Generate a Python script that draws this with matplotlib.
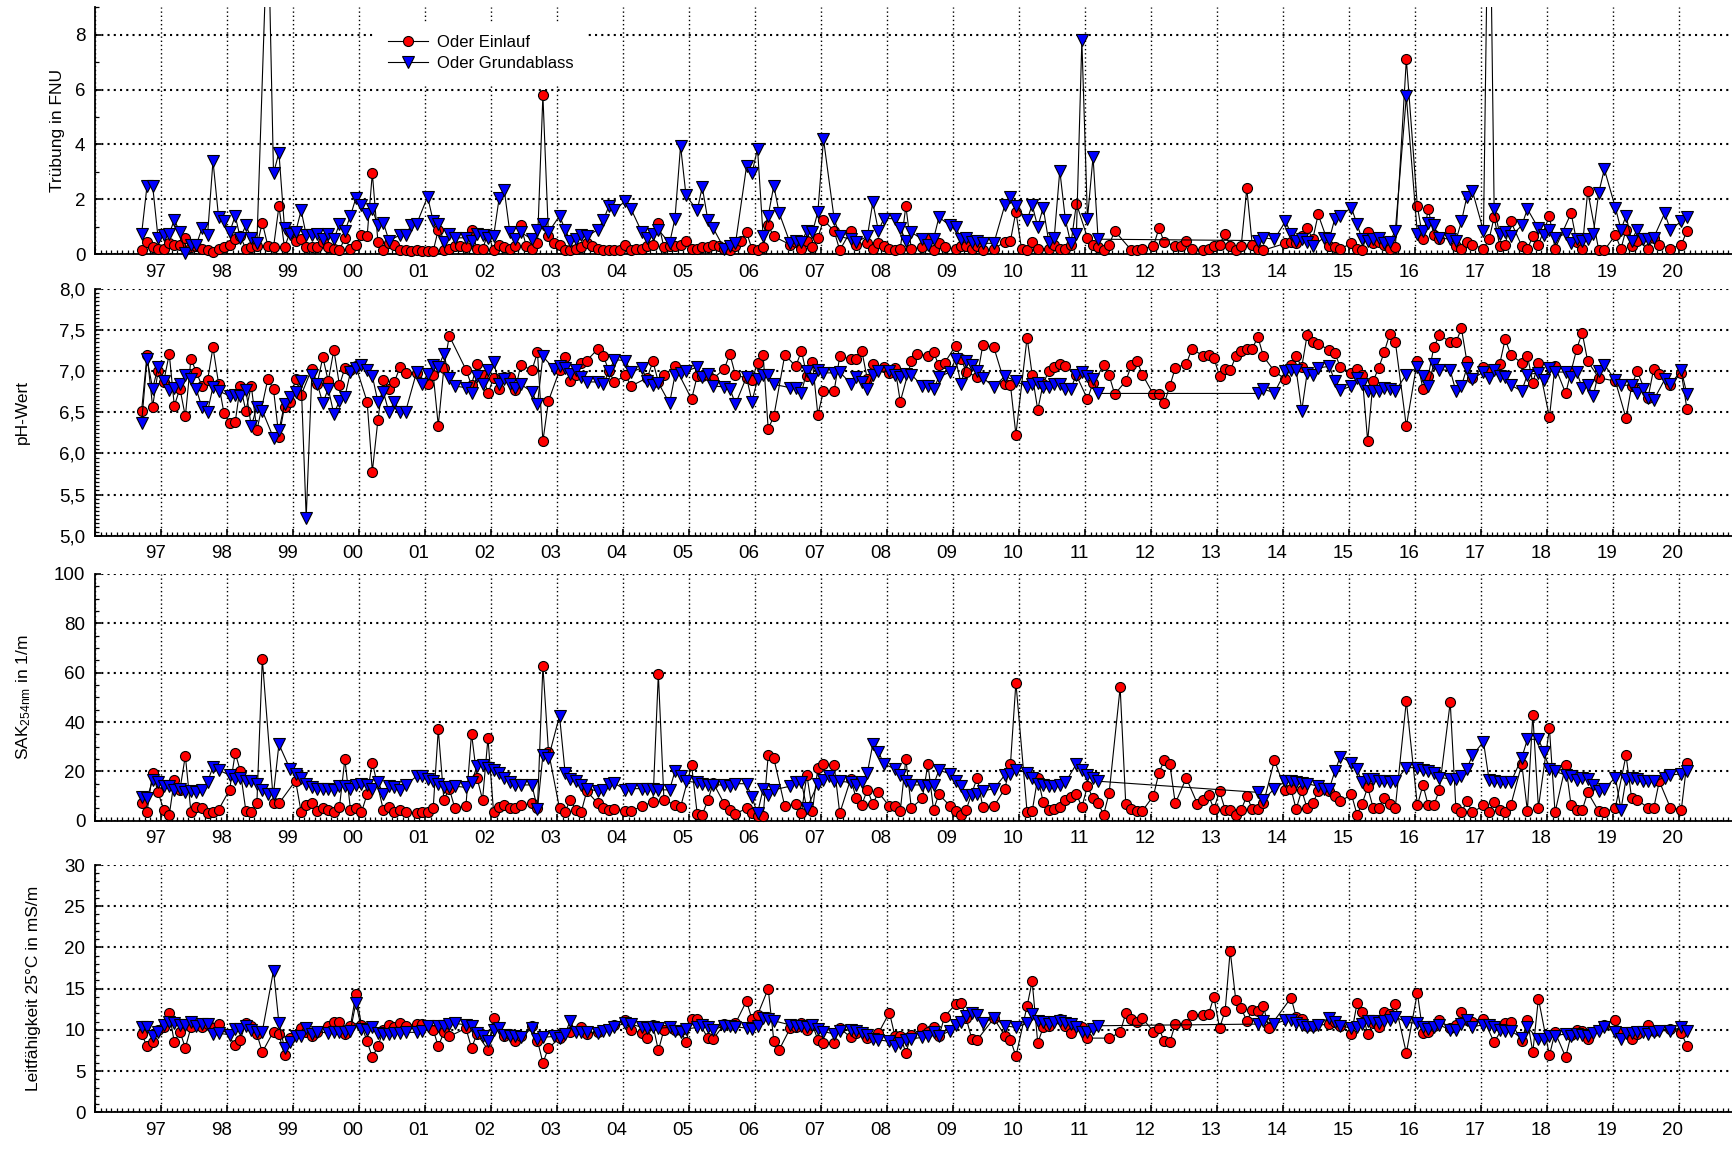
import numpy as np
import pandas as pd
import matplotlib
matplotlib.use("Agg")
import matplotlib.pyplot as plt
import matplotlib.dates as mdates
import matplotlib.transforms as mtransforms
from matplotlib.ticker import MultipleLocator, FuncFormatter
from matplotlib.lines import Line2D
from datetime import datetime

nan = np.nan

# monthly samples Sep 1996 .. Feb 2020, one row per year (1996 has 4, 2020 has 2)
first_month = "1996-09-01"
last_month = "2020-02-01"

trueb_einlauf = [
    [0.15, 0.45, 0.25, 0.2],
    [0.2, 0.4, 0.35, 0.35, 0.6, 0.25, 0.3, 0.2, 0.15, 0.1, 0.2, 0.25],
    [0.35, 0.55, 0.65, 0.2, 0.25, 0.3, 1.15, 0.3, 0.25, 1.75, 0.25, 0.8],
    [0.5, 0.55, 0.25, 0.25, 0.25, 0.45, 0.25, 0.2, 0.15, 0.6, 0.2, 0.35],
    [0.7, 0.65, 2.95, 0.45, 0.15, 0.4, 0.35, 0.15, 0.15, 0.12, 0.15, 0.12],
    [0.12, 0.12, 0.9, 0.15, 0.2, 0.3, 0.3, 0.25, 0.9, 0.2, 0.2, 0.75],
    [0.15, 0.35, 0.25, 0.2, 0.3, 1.05, 0.3, 0.2, 0.4, 5.8, 0.65, 0.4],
    [0.35, 0.15, 0.15, 0.2, 0.25, 0.4, 0.3, 0.2, 0.15, 0.15, 0.15, 0.15],
    [0.35, 0.15, 0.2, 0.2, 0.3, 0.35, 1.15, 0.25, 0.3, 0.3, 0.35, 0.5],
    [0.2, 0.2, 0.25, 0.25, 0.35, 0.3, 0.2, 0.15, 0.3, 0.5, 0.8, 0.2],
    [0.15, 0.25, 1.05, 0.65, nan, nan, 0.35, 0.45, 0.2, 0.5, 0.25, 0.6],
    [1.25, nan, 0.85, 0.15, nan, 0.85, 0.35, nan, 0.4, 0.2, 0.4, 0.3],
    [0.2, 0.15, 0.2, 1.75, 0.2, nan, 0.25, 0.6, 0.15, 0.4, 0.25, nan],
    [0.2, 0.3, 0.3, 0.2, 0.3, 0.15, nan, 0.2, nan, 0.45, 0.5, 1.55],
    [0.2, 0.15, 0.45, 0.2, nan, 0.2, 0.35, 0.2, 0.2, 0.35, 1.85, nan],
    [0.6, 0.35, 0.25, 0.15, 0.35, 0.85, nan, nan, 0.15, 0.15, 0.2, nan],
    [0.3, 0.95, 0.45, nan, 0.3, 0.3, 0.5, 0.2, nan, 0.15, 0.2, 0.3],
    [0.35, 0.75, 0.3, 0.15, 0.3, 2.4, 0.35, 0.2, 0.15, nan, nan, nan],
    [0.4, 0.45, 0.4, 0.65, 0.95, 0.55, 1.45, nan, 0.3, 0.25, 0.2, nan],
    [0.4, 0.2, 0.15, 0.8, 0.4, 0.45, 0.35, 0.2, 0.25, nan, 7.1, nan],
    [1.75, 0.55, 1.65, 0.7, 0.55, nan, 0.9, 0.3, 0.2, 0.45, 0.35, nan],
    [0.2, 0.55, 1.35, 0.3, 0.35, 1.2, nan, 0.3, 0.2, 0.65, 0.35, nan],
    [1.4, 0.2, nan, nan, 1.5, 0.45, 0.2, 2.3, nan, 0.15, 0.15, nan],
    [0.7, 0.2, 0.9, 0.3, 0.5, nan, 0.2, 0.6, 0.35, nan, 0.2, nan],
    [0.35, 0.85],
]

trueb_grund = [
    [0.75, 2.5, 2.5, 0.6],
    [0.7, 0.75, 1.25, 0.8, 0.05, 0.35, 0.35, 0.95, 0.7, 3.4, 1.35, 1.2],
    [0.8, 1.4, 0.6, 1.05, 0.6, 0.4, nan, 12.5, 2.95, 3.7, 0.95, 0.75],
    [0.8, 1.6, 0.7, 0.7, 0.75, 0.55, 0.75, 0.55, 1.1, 0.85, 1.4, 2.05],
    [1.8, 1.45, 1.65, 1.05, 1.15, 0.5, nan, 0.7, 0.7, 1.05, 1.1, nan],
    [2.1, 1.2, 1.1, 0.45, 0.75, 0.6, nan, 0.6, 0.5, 0.75, 0.7, 0.6],
    [0.65, 2.05, 2.35, 0.8, 0.55, 0.8, nan, 0.55, 0.9, 1.1, 0.8, nan],
    [1.4, 0.9, 0.5, 0.55, 0.7, 0.65, nan, 0.9, 1.25, 1.75, 1.6, nan],
    [1.95, 1.65, nan, 0.8, 0.6, 0.75, 0.9, nan, 0.4, 1.3, 3.95, 2.15],
    [nan, 1.6, 2.45, 1.25, 0.95, nan, 0.2, 0.3, 0.4, nan, 3.2, 2.95],
    [3.85, 0.65, 1.4, 2.5, 1.5, nan, 0.4, 0.5, 0.45, 0.85, 0.8, 1.55],
    [4.2, nan, 1.3, 0.65, nan, 0.55, 0.45, nan, 0.65, 1.9, 0.85, 1.3],
    [nan, 1.3, 0.95, 0.5, 0.8, nan, 0.55, 0.35, 0.55, 1.35, nan, 1.05],
    [1.0, 0.55, 0.6, 0.45, 0.5, 0.4, nan, 0.4, nan, 1.8, 2.1, 1.75],
    [nan, 1.25, 1.8, 1.0, 1.7, 0.45, 0.6, 3.05, 1.25, 0.4, 0.75, 7.8],
    [1.3, 3.55, 0.55, nan, nan, nan, nan, nan, nan, nan, nan, nan],
    [nan, nan, nan, nan, nan, nan, nan, nan, nan, nan, nan, nan],
    [nan, nan, nan, nan, nan, nan, nan, 0.5, 0.6, nan, 0.55, nan],
    [1.2, 0.75, 0.5, 0.55, 0.45, 0.3, nan, 0.6, 0.55, 1.3, 1.4, nan],
    [1.7, 1.1, 0.55, 0.5, 0.55, 0.6, 0.4, 0.45, 0.85, nan, 5.75, nan],
    [0.75, 0.85, 1.15, 1.05, 0.6, nan, 0.55, 0.5, 1.2, 2.1, 2.3, nan],
    [0.85, 16.0, 1.65, 0.75, 0.8, 0.65, nan, 1.05, 1.65, nan, 0.95, 0.7],
    [0.9, 0.6, nan, 0.75, 0.4, 0.55, 0.5, 0.55, 0.75, 2.25, 3.1, nan],
    [1.7, 0.9, 1.4, 0.5, 0.9, 0.55, 0.55, 0.6, nan, 1.5, 0.9, nan],
    [1.2, 1.35],
]

ph_einlauf = [
    [6.52, 7.2, 6.57, 7.0],
    [6.87, 7.21, 6.58, 6.79, 6.45, 7.15, 6.99, 6.82, 6.89, 7.29, 6.85, 6.49],
    [6.37, 6.38, 6.82, 6.52, 6.82, 6.28, nan, 6.91, 6.78, 6.2, 6.57, 6.63],
    [6.91, 6.71, nan, 7.03, 6.85, 7.17, 6.88, 7.26, 6.83, 7.04, 7.02, 7.06],
    [nan, 6.63, 5.78, 6.41, 6.89, 6.78, 6.87, 7.05, 6.98, nan, 6.98, nan],
    [6.85, 6.96, 6.34, 7.04, 7.43, nan, nan, 7.02, 6.83, 7.09, 6.96, 6.73],
    [6.92, 6.78, 6.93, 6.93, 6.77, 7.08, nan, 7.01, 7.23, 6.15, 6.64, nan],
    [7.01, 7.17, 6.88, 6.95, 7.1, 7.13, nan, 7.27, 7.19, 7.0, 6.87, nan],
    [6.95, 6.82, nan, nan, 6.92, 7.12, 6.87, 6.95, nan, 7.06, nan, nan],
    [6.66, 6.94, 6.94, 6.95, 6.91, nan, 7.03, 7.21, 6.95, nan, 6.92, 6.89],
    [7.1, 7.2, 6.3, 6.45, nan, 7.2, nan, 7.06, 7.25, 6.94, 7.11, 6.47],
    [6.76, nan, 6.76, 7.18, nan, 7.15, 7.15, 7.25, 6.9, 7.09, nan, 7.05],
    [6.98, 7.04, 6.63, nan, 7.12, 7.21, nan, 7.19, 7.23, 7.07, 7.1, nan],
    [7.31, 7.15, 6.99, nan, 6.93, 7.32, nan, 7.29, nan, 6.85, 6.83, 6.23],
    [nan, 7.41, 6.96, 6.53, 6.85, 7.0, 7.05, 7.09, 7.06, nan, 6.95, nan],
    [6.66, 6.86, nan, 7.07, 6.95, 6.72, nan, 6.88, 7.07, 7.13, 6.96, nan],
    [6.72, 6.72, 6.61, 6.82, 7.04, nan, 7.09, 7.27, nan, 7.19, 7.2, 7.16],
    [6.94, 7.03, 7.01, 7.18, 7.24, 7.27, 7.27, 7.42, 7.18, nan, 7.0, nan],
    [6.9, 7.07, 7.18, 7.05, 7.44, 7.35, 7.33, nan, 7.26, 7.22, 7.05, nan],
    [6.98, 7.03, 6.96, 6.15, 6.88, 7.04, 7.23, 7.45, 7.36, nan, 6.33, nan],
    [7.13, 6.78, 6.94, 7.29, 7.44, nan, 7.36, 7.35, 7.52, 7.12, 6.92, nan],
    [7.05, 6.99, nan, 7.09, 7.39, 7.2, nan, 7.1, 7.19, 6.86, 7.1, nan],
    [6.44, 7.06, nan, 6.73, 7.0, 7.27, 7.47, 7.12, nan, 6.92, nan, nan],
    [6.88, nan, 6.43, 6.82, 7.0, nan, 6.68, 7.03, 6.97, nan, 6.83, nan],
    [6.98, 6.54],
]

ph_grund = [
    [6.37, 7.15, 6.79, 7.05],
    [6.88, 6.77, 6.8, 6.85, 6.95, 6.9, 6.78, 6.56, 6.51, 6.81, 6.76, nan],
    [6.7, 6.71, 6.7, 6.77, 6.33, 6.57, 6.52, nan, 6.19, 6.28, 6.6, 6.69],
    [6.75, 6.88, 5.22, 6.96, 6.85, 6.61, 6.79, 6.48, 6.64, 6.69, 6.99, 7.04],
    [7.08, 7.02, 6.94, 6.63, 6.75, 6.5, 6.63, 6.5, 6.51, nan, 6.99, 6.84],
    [6.97, 7.08, 7.05, 7.21, 6.92, 6.82, nan, 6.8, 6.74, 6.94, 6.84, 7.01],
    [7.11, 6.85, 6.9, 6.84, 6.8, 6.84, nan, 6.75, 6.6, 7.18, nan, 7.03],
    [7.06, 7.04, 6.97, 7.01, 6.93, 6.87, nan, 6.87, 6.84, 7.0, 7.14, nan],
    [7.13, 6.99, nan, 7.04, 6.88, 6.83, 6.86, nan, 6.61, 6.95, 6.98, 7.0],
    [nan, 7.05, 6.93, 6.97, 6.82, nan, 6.81, 6.79, 6.6, nan, 6.93, 6.63],
    [6.9, 6.95, 6.96, 6.84, nan, nan, 6.8, 6.8, 6.74, 7.0, 6.91, 7.02],
    [6.98, nan, 6.98, 6.99, nan, 6.85, 6.93, 6.87, 6.79, 6.96, 7.0, nan],
    [7.0, 6.96, 6.93, 6.97, 6.96, nan, 6.82, 6.82, 6.78, 6.93, nan, 6.99],
    [7.15, 6.84, 7.12, 7.08, 7.0, 6.92, nan, 6.81, nan, 6.94, nan, 6.88],
    [nan, 6.81, 6.85, 6.86, 6.81, 6.81, 6.84, 6.85, 6.79, 6.79, 6.96, 6.99],
    [6.94, 6.9, 6.73, nan, nan, nan, nan, nan, nan, nan, nan, nan],
    [nan, nan, nan, nan, nan, nan, nan, nan, nan, nan, nan, nan],
    [nan, nan, nan, nan, nan, nan, nan, 6.73, 6.78, nan, 6.74, nan],
    [7.0, 7.02, 7.02, 6.52, 6.98, 6.95, 7.04, nan, 7.06, 6.88, 6.77, nan],
    [6.82, 6.92, 6.84, 6.76, 6.76, 6.76, 6.8, 6.79, 6.76, nan, 6.96, nan],
    [7.05, 6.94, 6.82, 7.09, 7.02, nan, 7.01, 6.76, 6.82, 7.04, 6.91, nan],
    [6.99, 6.92, 7.02, 6.94, 6.93, 6.83, nan, 6.76, 6.96, nan, 6.98, 6.89],
    [7.04, 6.99, nan, 6.99, 6.93, 6.99, 6.8, 6.83, 6.7, 7.0, 7.08, nan],
    [6.89, 6.83, nan, 6.83, 6.73, 6.79, 6.67, 6.65, nan, 6.9, 6.84, nan],
    [7.01, 6.72],
]

sak_einlauf = [
    [7, 3.5, 19.5, 11.5],
    [4.5, 2.3, 16.5, 12.5, 26.3, 3.5, 5.7, 5.3, 3.3, 3.5, 4.5, nan],
    [12.5, 27.5, 20.3, 4, 3.5, 7, 65.5, nan, 7.2, 7, nan, nan],
    [16.2, 3.6, 6.5, 7, 3.9, 5, 4.3, 3.7, 5.5, 25, 4.5, 5],
    [3.5, 10.7, 23.5, nan, 4.3, 5.5, 3.7, 4.3, 3.5, nan, 3.2, 3.5],
    [3.4, 5.3, 37, 8.5, 13, 5, nan, 6, 35.3, 17.5, 8.5, 33.5],
    [3.5, 5.5, 6.3, 5, 5.3, 6.2, nan, 7, 5.2, 62.7, 28, nan],
    [5, 3.5, 8.5, 4.5, 3.5, 12, nan, 7, 5, 4.3, 4.9, nan],
    [3.8, 3.8, nan, 6, nan, 7.5, 59.5, 8.5, nan, 6.3, 5.5, nan],
    [22.5, 2.8, 2.5, 8.2, 15.3, nan, 6.8, 4.5, 2.8, nan, 5, 3],
    [2, 2, 26.5, 25.3, nan, 5.8, nan, 6.8, 3.2, 18.5, 4, 21.5],
    [23, nan, 22.5, 3, nan, 17, 9, 6.5, 12.5, 6.8, 11.5, nan],
    [5.8, 6, 4, 25, 5.2, nan, 9, 23, 4.5, 10.7, nan, 6],
    [3.8, 2.3, 4.5, nan, 17.5, 5.5, nan, 5.8, nan, 13, 23, 56],
    [nan, 3.4, 3.8, 17.5, 7.6, 4.2, 4.8, 5.5, 8.5, 9.8, 10.8, 5.5],
    [14, 9, 7, 2.5, 11.2, nan, 54, 6.8, 4.8, 4, 4, nan],
    [10, 19.5, 24.5, 23, 7, nan, 17.3, nan, 6.8, 8.5, 10.3, 4.7],
    [12, 4.5, 4.2, 2.5, 4.5, 10, 4.7, 4.7, 7, nan, 24.5, nan],
    [12.3, 12.8, 4.7, 12.3, 5, 7, 12, nan, 12, 10.2, 7.8, nan],
    [10.7, 2.5, 6.8, 13.5, 5.3, 5.3, 9, 6.8, 5.3, nan, 48.5, nan],
    [6.2, 14.5, 6.2, 6.2, 12.3, nan, 48, 5.3, 3.4, 7.9, 3.4, nan],
    [6.2, 3.4, 7.6, 4.2, 3.4, 6.2, nan, 23, 4, 43, 5.3, nan],
    [37.5, 3.4, nan, 22.5, 6.2, 4.2, 4.2, 11.5, nan, 3.8, 3.4, nan],
    [5.3, nan, 26.5, 9, 8.4, nan, 5.3, 5, 16, nan, 5.3, nan],
    [4.5, 23.5],
]

sak_grund = [
    [9.5, 9, 16.5, 15.5],
    [14, 14, 12.5, 13, 11.5, 12, 11.5, 12.3, 15.8, 21.8, 20.5, nan],
    [18.5, 17, 17.5, 16, 16, 15, 12.5, 11, 11, 31, nan, 21],
    [19, 17.5, 15, 13.5, 13, 13, 13, 12.5, 14, 14, 13, 14.5],
    [15, 14.5, 13, 15.5, 11, 14, 13.5, 12.5, 14.5, nan, 18, 18],
    [17, 16, 15, 13.5, 13.5, 14, nan, 13.5, 15.5, 22, 22.5, 21.5],
    [20.5, 19.5, 17.5, 15.5, 14.5, 14.5, nan, 14.5, 4.8, 26.5, 25.5, nan],
    [42.5, 19.5, 17, 16, 14.5, 13, nan, 12, 12.5, 15, 15.2, nan],
    [12.5, 13, nan, 13, 13, 12.7, 12.5, nan, 12.5, 20, 18, 16],
    [nan, 15.5, 15, 14.5, 14.5, nan, 14.5, 14, 15, nan, 15, 9.5],
    [3, 13, 10.5, 12.5, nan, nan, 14, 15.5, 15.5, 5, nan, 15],
    [16.5, 18, 16, 16, nan, 15.5, 14.5, 15.5, 19.5, 31, 28, 23],
    [nan, 21, 18.5, 16, 14.5, nan, 14.5, 14, 14.5, 20.5, nan, 19],
    [16, 14, 10.5, 10.5, 10.8, 12, nan, 13, nan, 18.5, 19, 20.5],
    [nan, 19.5, 17.5, 15, 14.5, 14, 14, 14.5, 15.5, nan, 23, 20.5],
    [18.5, 17.5, 16, nan, nan, nan, nan, nan, nan, nan, nan, nan],
    [nan, nan, nan, nan, nan, nan, nan, nan, nan, nan, nan, nan],
    [nan, nan, nan, nan, nan, nan, nan, 11.5, 8.5, nan, 13, nan],
    [16, 16, 15.5, 15.2, 15, nan, 14, 13, 13, 20, 26, nan],
    [23.5, 21, 15.5, 17, 17, 16, 16, 15.5, 16, nan, 21.5, nan],
    [21.5, 20.5, 20, 19.5, 17.5, nan, 17, 17, 18, 21, 26.5, nan],
    [32, 16.5, 16, 15.5, 15.5, 15.5, nan, 25.5, 33, nan, 33, 28],
    [21, 20, nan, 18.5, 18, 16.5, 17.5, 17, 14.5, 12, 13, nan],
    [17.5, 4.5, 17, 17.5, 17, 16, 16, 16, nan, 17.5, 18.5, nan],
    [19, 20],
]

lf_einlauf = [
    [9.5, 8, 8.5, 10],
    [10.3, 12, 8.5, 9.8, 7.8, 10.3, nan, 10.3, 10.7, 10.2, 10.7, nan],
    [nan, 8.2, 8.8, 10.8, 10.5, 9.5, 7.3, nan, 9.8, 9.5, 6.9, 9],
    [nan, 10.2, 9.8, 9.2, 9.8, nan, 10.5, 10.9, 10.9, 9.5, 10.5, 14.3],
    [10.6, 8.6, 6.7, 8, 10, 10.6, 10.3, 10.8, 10.5, nan, 10.7, 10.7],
    [nan, 10, 8, 9.7, 9.2, nan, nan, 10.2, 7.8, 9.5, nan, 7.6],
    [11.4, nan, 9.3, 9.5, 8.7, 9.2, nan, 10.5, 8.7, 6, 7.8, nan],
    [9, nan, 9.8, nan, 10.4, 9.5, nan, 9.7, nan, nan, 10.6, nan],
    [11.2, 10, nan, 9.6, 9, 10.6, 7.5, 10, nan, 10, 10, 8.5],
    [11.3, 11.3, nan, 9, 8.9, nan, 10.7, nan, 10.8, nan, 13.5, 11.3],
    [11.8, nan, 15, 8.7, 7.6, nan, 10.2, 10.3, 10.8, 10, 10.6, 8.8],
    [8.4, nan, 8.4, 10.2, nan, 9.1, 9.6, nan, 9, nan, 9.6, nan],
    [12.1, 9.2, 9.3, 7.2, 9.4, nan, 10.2, 9.7, 10.3, 9.2, 11.6, nan],
    [13.1, 13.3, 11.4, 8.9, 8.8, nan, nan, 11.4, nan, 9.3, 8.8, 6.8],
    [nan, 12.9, 15.9, 8.4, 10.3, 10.5, nan, 11.3, 10.5, 9.6, nan, 10.3],
    [9, nan, nan, nan, 9, nan, 9.7, 12, 11.3, 10.9, 11.4, nan],
    [9.8, 10.2, 8.6, 8.5, 10.7, nan, 10.7, 11.8, nan, 11.8, 11.9, 14],
    [10.2, 12.3, 19.6, 13.6, 12.6, 11.1, 12.4, 12.3, 12.9, 10.2, nan, nan],
    [nan, 13.9, 11.6, 11.3, 10.5, 10.5, nan, nan, 10.7, 11, 10.5, nan],
    [9.5, 13.2, 12.2, 9.5, 10.8, 10.3, 12.2, 11.9, 13.1, nan, 7.2, nan],
    [14.5, 9.6, 9.8, 10.5, 11.2, nan, 10.2, 10.6, 12.2, 11.2, 11, nan],
    [11.3, nan, 8.5, nan, 10.8, 11, nan, 8.6, 11.2, 7.3, 13.8, nan],
    [6.9, 9.7, nan, 6.7, 9.4, 10, 9.9, 8.9, nan, nan, 10.6, nan],
    [11.2, 9.7, nan, 8.9, 9.5, nan, 10.6, 9.9, nan, nan, 10.1, nan],
    [9.6, 8.1],
]

lf_grund = [
    [10.3, 10.3, 9.2, 9.7],
    [10.6, 11, 10.8, 10.6, 10.6, 11, 10.5, 10.7, 10.7, 9.5, 9.6, nan],
    [9.4, 10.1, 10.1, 10.5, 10, 9.8, 9.8, nan, 17.2, 10.8, 7.8, 8.5],
    [9.3, 9.2, 10.2, 9.5, 9.8, nan, 9.6, 9.7, 9.8, 9.7, 9.9, 13.3],
    [10.1, 10, 10.3, 9.6, 9.5, 9.5, 9.6, 9.6, 9.7, nan, 9.7, 9.9],
    [10.5, nan, 10.5, 10.5, 10.7, 10.8, nan, 10.6, 10.5, 9.6, 9.2, 8.6],
    [10, 10.2, 9.4, 9.3, 9.3, 9.1, nan, 10.2, 8.9, 9.1, nan, 9.2],
    [9, 9.5, 11.1, 9.7, 9.7, 9.8, nan, 9.6, 9.9, 10, 10.4, nan],
    [10.8, 10.7, nan, 10.3, 10.2, 10.4, 10.2, nan, 10.3, 9.9, 9.8, 10.1],
    [nan, 10.3, 10.6, 10.3, 10, nan, 10.5, 10.5, 10.4, nan, 10.2, 10.1],
    [10.5, 11.4, 11.3, 11.1, nan, nan, 10.6, 10.5, 10.5, 10.4, 10.6, 10.1],
    [9.8, nan, 9.5, 9.9, nan, 10, 9.9, 9.6, 9.4, 8.9, 8.8, nan],
    [8.6, 8.1, 8.4, 8.8, 8.9, nan, 9.1, 9.3, 9.8, 9.2, nan, 9.9],
    [10.6, 11, 11.7, 12, 11.8, 10.8, nan, 11.5, nan, 10.5, nan, 10.3],
    [nan, 10.8, 11.9, 11.1, 11, 10.7, 10.9, 11.1, 10.8, 10.7, 10.3, 9.8],
    [9.8, 10.1, 10.5, nan, nan, nan, nan, nan, nan, nan, nan, nan],
    [nan, nan, nan, nan, nan, nan, nan, nan, nan, nan, nan, nan],
    [nan, nan, nan, nan, nan, nan, nan, 10.7, 11.1, nan, 10.7, nan],
    [11.2, 11.2, 10.8, 10.6, 10.4, 10.4, 10.6, nan, 11.5, 10.9, 10.5, nan],
    [10.2, 10.4, 10.7, 11.1, 11.1, 10.8, 11.1, 11.2, 11.6, nan, 10.9, nan],
    [10.8, 10.4, 10.1, 10.4, 10.6, nan, 10, 10, 10.7, 11.2, 10.4, nan],
    [10.6, 10.6, 10.4, 10, 9.9, 9.9, nan, 9, 10.3, nan, 8.9, 8.9],
    [9.3, 9.3, nan, 9.5, 9.2, 9.5, 9.4, 9.3, 9.6, 9.9, 10.4, nan],
    [9.7, 8.9, 9.6, 9.6, 9.7, 9.7, 9.5, 9.7, 9.9, nan, 9.9, nan],
    [10.3, 9.9],
]

plt.rcParams["font.family"] = ["Liberation Sans", "DejaVu Sans"]
plt.rcParams["mathtext.default"] = "regular"

months = pd.date_range(first_month, last_month, freq="MS") + pd.Timedelta(days=14)
x = mdates.date2num(months.to_pydatetime())


def flatten(rows, name):
    vals = np.array([v for row in rows for v in row], dtype=float)
    if len(vals) != len(x):
        raise ValueError(f"{name}: {len(vals)} values, expected {len(x)}")
    return vals


fig = plt.figure(figsize=(17.33, 11.49), dpi=100)
W, H = 1733.0, 1149.0
left = 95 / W

# (top px, bottom px) of each panel
panels = [(7.2, 254.3), (289.0, 535.7), (574.0, 820.7), (865.0, 1112.3)]
ylims = [(0, 9), (5, 8), (0, 100), (0, 30)]
ymajor = [2, 0.5, 20, 5]
yminor = [1, 0.05, 5, 1]
series = [
    (trueb_einlauf, trueb_grund),
    (ph_einlauf, ph_grund),
    (sak_einlauf, sak_grund),
    (lf_einlauf, lf_grund),
]
ylabels = [
    ("Trübung in FNU", 58, 130),
    ("pH-Wert", 22, 412),
    ("SAK$_{254nm}$ in 1/m", 24, 697),
    ("Leitfähigkeit 25°C in mS/m", 34, 988),
]

red_kw = dict(marker="o", ms=7.2, mfc="#ff0000", mec="black", mew=0.8, ls="none")
blue_kw = dict(marker="v", ms=8.2, mfc="#0000ff", mec="black", mew=0.8, ls="none")

xmin = mdates.date2num(datetime(1996, 1, 1))
xmax = mdates.date2num(datetime(2020, 10, 27))
label_shift = mtransforms.ScaledTranslation(-6 / 100, 0, fig.dpi_scale_trans)

axes = []
for i, (top, bottom) in enumerate(panels):
    ax = fig.add_axes([left, 1 - bottom / H, 1 - left, (bottom - top) / H])
    axes.append(ax)
    ein = flatten(series[i][0], f"panel{i} einlauf")
    gru = flatten(series[i][1], f"panel{i} grund")

    m = np.isfinite(ein)
    ax.plot(x[m], ein[m], color="black", lw=0.8, zorder=2)
    ax.plot(x[m], ein[m], clip_on=False, zorder=3, **red_kw)
    m = np.isfinite(gru)
    ax.plot(x[m], gru[m], color="black", lw=0.8, zorder=4)
    ax.plot(x[m], gru[m], clip_on=False, zorder=5, **blue_kw)

    ax.set_xlim(xmin, xmax)
    ax.set_ylim(*ylims[i])
    ax.xaxis.set_major_locator(mdates.YearLocator(1))
    ax.xaxis.set_minor_locator(mdates.MonthLocator())
    ax.xaxis.set_major_formatter(FuncFormatter(
        lambda v, pos: "" if mdates.num2date(v).year == 1996
        else mdates.num2date(v).strftime("%y")))
    ax.yaxis.set_major_locator(MultipleLocator(ymajor[i]))
    ax.yaxis.set_minor_locator(MultipleLocator(yminor[i]))
    if i == 1:
        ax.yaxis.set_major_formatter(FuncFormatter(lambda v, pos: f"{v:.1f}".replace(".", ",")))
    else:
        ax.yaxis.set_major_formatter(FuncFormatter(lambda v, pos: f"{v:.0f}"))

    ax.set_axisbelow(True)
    ax.grid(True, which="major", axis="y", color="black", linestyle=(0, (1, 2)), linewidth=1.5)
    ax.grid(True, which="major", axis="x", color="black", linestyle=(0, (1, 2)), linewidth=1.0)

    for s in ["top", "right"]:
        ax.spines[s].set_visible(False)
    for s in ["left", "bottom"]:
        ax.spines[s].set_linewidth(1.3)

    ax.tick_params(which="both", direction="in", labelsize=13.5, colors="black")
    ax.tick_params(axis="x", which="major", length=5, width=1.2, pad=7)
    ax.tick_params(axis="x", which="minor", length=3, width=0.9)
    ax.tick_params(axis="y", which="major", length=4, width=1.2, pad=7)
    ax.tick_params(axis="y", which="minor", length=3, width=0.9)

    for t in ax.xaxis.get_major_ticks():
        t.label1.set_transform(t.label1.get_transform() + label_shift)

    text, lx, ly = ylabels[i]
    fig.text(lx / W, 1 - ly / H, text, rotation=90, ha="center", va="center", fontsize=12.5)

handles = [
    Line2D([], [], color="black", lw=0.8, **{k: v for k, v in red_kw.items() if k != "ls"}),
    Line2D([], [], color="black", lw=0.8, **{k: v for k, v in blue_kw.items() if k != "ls"}),
]
axes[0].legend(handles, ["Oder Einlauf", "Oder Grundablass"], loc="upper left",
               bbox_to_anchor=(375 / W, 1 - 22 / H), bbox_transform=fig.transFigure,
               frameon=True, fancybox=False, facecolor="white", edgecolor="none",
               framealpha=1, fontsize=12, handlelength=2.4, handletextpad=0.55,
               labelspacing=0.35, borderpad=0.8, borderaxespad=0)

fig.savefig("out.png", dpi=100)
